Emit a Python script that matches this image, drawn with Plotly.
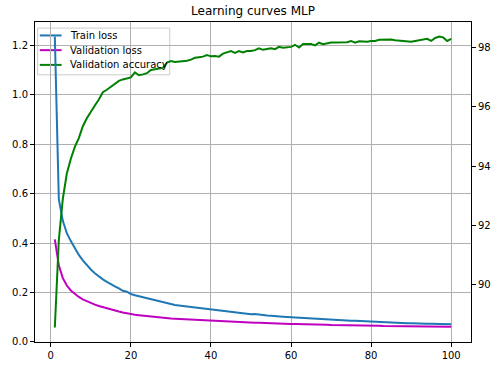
import plotly.graph_objects as go

epochs = list(range(1, 101))

train_loss = [
    1.236, 0.578, 0.490, 0.440, 0.408, 0.378, 0.352, 0.330, 0.311, 0.293,
    0.278, 0.265, 0.253, 0.243, 0.233, 0.225, 0.217, 0.207, 0.203, 0.194,
    0.189, 0.185, 0.181, 0.176, 0.172, 0.167, 0.164, 0.160, 0.156, 0.152,
    0.149, 0.147, 0.145, 0.142, 0.141, 0.137, 0.135, 0.134, 0.132, 0.129,
    0.128, 0.126, 0.124, 0.122, 0.121, 0.119, 0.116, 0.115, 0.114, 0.112,
    0.113, 0.110, 0.109, 0.107, 0.106, 0.104, 0.103, 0.102, 0.101, 0.100,
    0.099, 0.098, 0.097, 0.097, 0.094, 0.096, 0.093, 0.093, 0.091, 0.090,
    0.089, 0.088, 0.087, 0.087, 0.086, 0.086, 0.085, 0.084, 0.083, 0.082,
    0.082, 0.081, 0.080, 0.079, 0.078, 0.078, 0.077, 0.076, 0.075, 0.075,
    0.074, 0.074, 0.073, 0.073, 0.073, 0.072, 0.072, 0.071, 0.071, 0.071,
]

val_loss = [
    0.415, 0.310, 0.258, 0.228, 0.208, 0.194, 0.182, 0.172, 0.164, 0.158,
    0.151, 0.145, 0.140, 0.136, 0.131, 0.127, 0.123, 0.119, 0.115, 0.112,
    0.110, 0.108, 0.106, 0.104, 0.103, 0.101, 0.099, 0.098, 0.097, 0.095,
    0.094, 0.093, 0.092, 0.091, 0.090, 0.089, 0.088, 0.087, 0.086, 0.085,
    0.084, 0.084, 0.083, 0.082, 0.081, 0.081, 0.080, 0.079, 0.079, 0.078,
    0.077, 0.077, 0.076, 0.076, 0.075, 0.075, 0.074, 0.074, 0.073, 0.072,
    0.072, 0.072, 0.071, 0.071, 0.070, 0.070, 0.070, 0.069, 0.069, 0.068,
    0.068, 0.068, 0.067, 0.067, 0.067, 0.066, 0.066, 0.066, 0.066, 0.065,
    0.065, 0.065, 0.064, 0.064, 0.064, 0.063, 0.063, 0.063, 0.063, 0.063,
    0.062, 0.062, 0.062, 0.062, 0.062, 0.061, 0.061, 0.061, 0.061, 0.061,
]

val_acc = [
    88.55, 91.50, 92.90, 93.75, 94.25, 94.65, 94.95, 95.35, 95.62, 95.85,
    96.05, 96.25, 96.50, 96.58, 96.68, 96.80, 96.88, 96.93, 96.97, 97.00,
    97.17, 97.07, 97.10, 97.14, 97.25, 97.28, 97.30, 97.32, 97.50, 97.55,
    97.52, 97.53, 97.55, 97.56, 97.60, 97.66, 97.68, 97.70, 97.75, 97.71,
    97.72, 97.70, 97.80, 97.85, 97.89, 97.83, 97.89, 97.84, 97.89, 97.89,
    97.92, 97.98, 97.93, 97.96, 97.98, 97.95, 98.03, 98.00, 98.02, 98.03,
    98.10, 98.01, 98.13, 98.14, 98.13, 98.08, 98.17, 98.12, 98.16, 98.18,
    98.18, 98.18, 98.18, 98.19, 98.23, 98.17, 98.22, 98.21, 98.20, 98.23,
    98.23, 98.27, 98.27, 98.28, 98.28, 98.25, 98.24, 98.23, 98.23, 98.20,
    98.23, 98.26, 98.28, 98.30, 98.23, 98.33, 98.38, 98.35, 98.23, 98.30,
]

series_names = ["Train loss", "Validation loss", "Validation accuracy"]
series_colors = ["#1f77b4", "#bf00bf", "#008000"]

x_ticks = [0, 20, 40, 60, 80, 100]
y_ticks = [0.0, 0.2, 0.4, 0.6, 0.8, 1.0, 1.2]
y2_ticks = [90, 92, 94, 96, 98]

FONT = "DejaVu Sans"

fig = go.Figure()
fig.add_trace(go.Scatter(x=epochs, y=train_loss, mode="lines", name=series_names[0],
                         line=dict(color=series_colors[0], width=2)))
fig.add_trace(go.Scatter(x=epochs, y=val_loss, mode="lines", name=series_names[1],
                         line=dict(color=series_colors[1], width=2)))
fig.add_trace(go.Scatter(x=epochs, y=val_acc, mode="lines", name=series_names[2],
                         line=dict(color=series_colors[2], width=2), yaxis="y2"))

axis_common = dict(
    showline=True, linecolor="black", linewidth=1,
    ticks="outside", ticklen=4, tickcolor="black", tickwidth=1,
    tickfont=dict(family=FONT, size=10, color="black"),
    zeroline=False,
)

# Manual matplotlib-style legend (compact), in paper coordinates
shapes = [dict(type="rect", xref="paper", yref="paper",
               x0=0.006, x1=0.309, y0=0.835, y1=0.981,
               fillcolor="rgba(255,255,255,0.8)", line=dict(color="#cccccc", width=1),
               layer="between")]
annotations = []
legend_rows = [0.958, 0.912, 0.866]
for name, color, yy in zip(series_names, series_colors, legend_rows):
    shapes.append(dict(type="line", xref="paper", yref="paper",
                       x0=0.011, x1=0.061, y0=yy, y1=yy,
                       line=dict(color=color, width=2), layer="between"))
    annotations.append(dict(text=name, xref="paper", yref="paper", x=0.076, y=yy,
                            xanchor="left", yanchor="middle", showarrow=False,
                            font=dict(family=FONT, size=10, color="black")))

fig.update_layout(
    width=503, height=373,
    margin=dict(l=33, r=26, t=22, b=24),
    paper_bgcolor="white", plot_bgcolor="white",
    font=dict(family=FONT, size=10, color="black"),
    title=dict(text="Learning curves MLP", x=0.5, xref="paper", y=1 - 11 / 373,
               yref="container", yanchor="middle", xanchor="center",
               font=dict(family=FONT, size=12, color="black")),
    xaxis=dict(range=[-3.95, 104.95], tickvals=x_ticks, mirror=True,
               showgrid=True, gridcolor="#b0b0b0", gridwidth=1, **axis_common),
    yaxis=dict(range=[-0.0005, 1.295], tickvals=y_ticks, tickformat=".1f",
               showgrid=True, gridcolor="#b0b0b0", gridwidth=1, **axis_common),
    yaxis2=dict(range=[88.06, 98.87], tickvals=y2_ticks, overlaying="y", side="right",
                showgrid=False, **axis_common),
    shapes=shapes,
    annotations=annotations,
    showlegend=False,
)

fig.write_html("out.html", config={"displayModeBar": False},
               post_script="document.body.style.margin='0';")
